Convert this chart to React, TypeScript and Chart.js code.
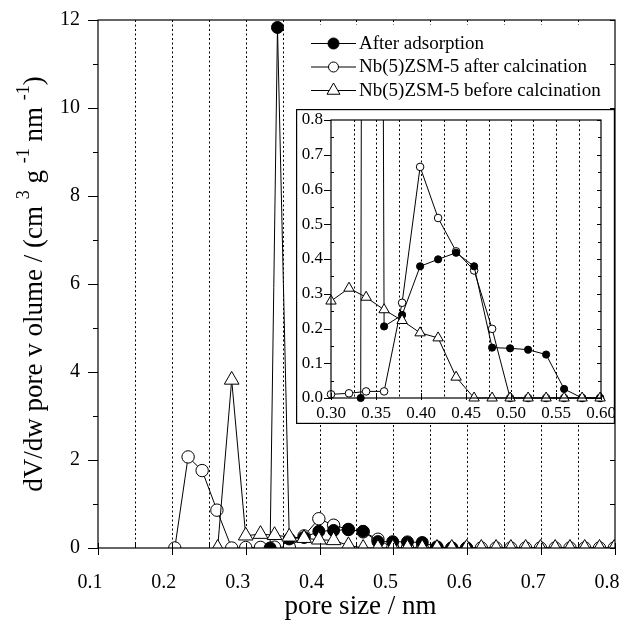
import React, { useEffect, useRef } from 'react';
import { Chart, registerables } from 'chart.js';

Chart.register(...registerables);

// ---------- data ----------
const afterAdsX = [0.333, 0.343, 0.359, 0.379, 0.399, 0.419, 0.439, 0.459, 0.479, 0.499, 0.519, 0.539, 0.559, 0.579, 0.599];
const afterAdsY = [0, 11.83, 0.206, 0.239, 0.379, 0.399, 0.418, 0.379, 0.145, 0.143, 0.139, 0.125, 0.026, 0, 0];

const afterCalcX = [0.204, 0.222, 0.241, 0.261, 0.281, 0.300, 0.320, 0.339, 0.359, 0.379, 0.399, 0.419, 0.439, 0.459, 0.479, 0.499, 0.519, 0.539, 0.559, 0.579, 0.599, 0.619, 0.639, 0.659, 0.679, 0.699, 0.719, 0.739, 0.759, 0.779, 0.799];
const afterCalcY = [0, 2.07, 1.76, 0.86, 0, 0.0106, 0.0135, 0.019, 0.019, 0.274, 0.665, 0.518, 0.422, 0.367, 0.199, 0, 0, 0, 0, 0, 0, 0, 0, 0, 0, 0, 0, 0, 0, 0, 0];

const beforeCalcX = [0.262, 0.281, 0.300, 0.320, 0.339, 0.359, 0.379, 0.399, 0.419, 0.439, 0.459, 0.479, 0.499, 0.519, 0.539, 0.559, 0.579, 0.599, 0.619, 0.639, 0.659, 0.679, 0.699, 0.719, 0.739, 0.759, 0.779, 0.799];
const beforeCalcY = [0, 3.82, 0.279, 0.316, 0.290, 0.254, 0.223, 0.1875, 0.173, 0.06, 0, 0, 0, 0, 0, 0, 0, 0, 0, 0, 0, 0, 0, 0, 0, 0, 0, 0];

const seriesLabels = ['After adsorption', 'Nb(5)ZSM-5 after calcination', 'Nb(5)ZSM-5 before calcination'];

const mainXRange = [0.1, 0.8];
const mainYRange = [0, 12];
const insetXRange = [0.3, 0.6];
const insetYRange = [0, 0.8];

const xTitle = 'pore size / nm';
const yTitleParts: { t: string; sup: boolean }[] = [
  { t: 'dV/dw pore v olume / (cm ', sup: false },
  { t: '3', sup: true },
  { t: ' g ', sup: false },
  { t: '-1', sup: true },
  { t: ' nm ', sup: false },
  { t: '-1', sup: true },
  { t: ')', sup: false },
];

const FONT = '"Liberation Serif", "Times New Roman", serif';

// ---------- helpers ----------
const pts = (xs: number[], ys: number[]) => xs.map((x, i) => ({ x, y: ys[i] }));
const isMult = (v: number, step: number) => {
  const q = v / step;
  return Math.abs(q - Math.round(q)) < 1e-6;
};

function drawMarker(ctx: CanvasRenderingContext2D, style: string, x: number, y: number, r: number, fill: string) {
  ctx.beginPath();
  if (style === 'triangle') {
    let rad = 0;
    ctx.moveTo(x + Math.sin(rad) * r, y - Math.cos(rad) * r);
    rad += (2 * Math.PI) / 3;
    ctx.lineTo(x + Math.sin(rad) * r, y - Math.cos(rad) * r);
    rad += (2 * Math.PI) / 3;
    ctx.lineTo(x + Math.sin(rad) * r, y - Math.cos(rad) * r);
    ctx.closePath();
  } else {
    ctx.arc(x, y, r, 0, Math.PI * 2);
  }
  ctx.fillStyle = fill;
  ctx.fill();
  ctx.lineWidth = 1;
  ctx.strokeStyle = '#000';
  ctx.stroke();
}

function line(ctx: CanvasRenderingContext2D, x1: number, y1: number, x2: number, y2: number) {
  ctx.beginPath();
  ctx.moveTo(x1, y1);
  ctx.lineTo(x2, y2);
  ctx.stroke();
}

const zeroPad = (s: any) => {
  s.paddingLeft = 0;
  s.paddingRight = 0;
  s.paddingTop = 0;
  s.paddingBottom = 0;
};

function makeDatasets(inset: boolean) {
  const filt = (xs: number[], ys: number[]) => {
    const p = pts(xs, ys);
    return inset ? p.filter((d) => d.x >= insetXRange[0] - 1e-9 && d.x <= insetXRange[1] + 1e-9) : p;
  };
  const clip = inset ? { left: 8, right: 8, top: 0, bottom: 8 } : undefined;
  const base = {
    borderColor: '#000',
    borderWidth: 1,
    pointBorderColor: '#000',
    pointBorderWidth: 1,
    tension: 0,
    showLine: true,
    ...(clip ? { clip } : {}),
  };
  return [
    {
      ...base,
      label: seriesLabels[0],
      data: filt(afterAdsX, afterAdsY),
      pointStyle: 'circle',
      pointRadius: inset ? 3.6 : 6,
      pointBackgroundColor: '#000',
      order: 2,
    },
    {
      ...base,
      label: seriesLabels[1],
      data: filt(afterCalcX, afterCalcY),
      pointStyle: 'circle',
      pointRadius: inset ? 3.8 : 6.2,
      pointBackgroundColor: '#fff',
      order: 3,
    },
    {
      ...base,
      label: seriesLabels[2],
      data: filt(beforeCalcX, beforeCalcY),
      pointStyle: 'triangle',
      pointRadius: inset ? 6 : 8.5,
      pointBackgroundColor: '#fff',
      order: 1,
    },
  ];
}

// ---------- main chart decorations ----------
const mainDecor = {
  id: 'mainDecor',
  beforeDatasetsDraw(chart: any) {
    const { ctx, chartArea: a, scales } = chart;
    const xs = scales.x;
    ctx.save();
    ctx.strokeStyle = '#000';
    ctx.lineWidth = 1;
    ctx.setLineDash([2, 2.5]);
    xs.ticks.forEach((t: any) => {
      if (t.value <= xs.min + 1e-9 || t.value >= xs.max - 1e-9) return;
      const px = Math.round(xs.getPixelForValue(t.value)) + 0.5;
      line(ctx, px, a.top, px, a.bottom);
    });
    ctx.setLineDash([]);
    // white legend background
    ctx.fillStyle = '#fff';
    ctx.fillRect(302, a.top + 5, a.right - 302 - 1, 109 - (a.top + 5));
    ctx.restore();
  },
  afterDatasetsDraw(chart: any) {
    const { ctx, chartArea: a, scales } = chart;
    const xs = scales.x;
    const ys = scales.y;
    ctx.save();
    ctx.strokeStyle = '#000';
    ctx.lineWidth = 1.2;
    ctx.strokeRect(a.left, a.top, a.right - a.left, a.bottom - a.top);
    ctx.lineWidth = 1;
    xs.ticks.forEach((t: any) => {
      const px = Math.round(xs.getPixelForValue(t.value)) + 0.5;
      const major = isMult(t.value, 0.1);
      line(ctx, px, a.bottom - 5, px, a.bottom + (major ? 7 : 0));
    });
    const yt = ys.ticks.map((t: any) => t.value);
    for (let i = 0; i < yt.length; i++) {
      const py = Math.round(ys.getPixelForValue(yt[i])) + 0.5;
      line(ctx, a.left - 10, py, a.left, py);
      line(ctx, a.right - 5, py, a.right, py);
      if (i < yt.length - 1) {
        const pm = Math.round(ys.getPixelForValue((yt[i] + yt[i + 1]) / 2)) + 0.5;
        line(ctx, a.left - 5, pm, a.left, pm);
        line(ctx, a.right - 5, pm, a.right, pm);
      }
    }
    ctx.restore();
  },
  afterDraw(chart: any) {
    const { ctx, chartArea: a } = chart;
    ctx.save();
    // legend
    const styles = [
      { s: 'circle', r: 5.5, f: '#000' },
      { s: 'circle', r: 5, f: '#fff' },
      { s: 'triangle', r: 7.5, f: '#fff' },
    ];
    const rows = [43, 66.5, 90];
    ctx.font = `19px ${FONT}`;
    ctx.textBaseline = 'middle';
    ctx.textAlign = 'left';
    seriesLabels.forEach((lab, i) => {
      const y = rows[i];
      ctx.strokeStyle = '#000';
      ctx.lineWidth = 1;
      line(ctx, 311, y + 0.5, 356, y + 0.5);
      drawMarker(ctx, styles[i].s, 333.5, y + 0.5, styles[i].r, styles[i].f);
      ctx.fillStyle = '#000';
      ctx.fillText(lab, 359, y + 1);
    });
    // x title
    ctx.fillStyle = '#000';
    ctx.font = `27px ${FONT}`;
    ctx.textAlign = 'center';
    ctx.textBaseline = 'alphabetic';
    ctx.fillText(xTitle, (a.left + a.right) / 2 + 4, 614);
    // y title with superscripts
    ctx.translate(42, (a.top + a.bottom) / 2);
    ctx.rotate(-Math.PI / 2);
    ctx.textAlign = 'left';
    const nf = `27px ${FONT}`;
    const sf = `18px ${FONT}`;
    let total = 0;
    yTitleParts.forEach((p) => {
      ctx.font = p.sup ? sf : nf;
      total += ctx.measureText(p.t).width;
    });
    let cx = -total / 2;
    yTitleParts.forEach((p) => {
      ctx.font = p.sup ? sf : nf;
      ctx.fillText(p.t, cx, p.sup ? -13 : 0);
      cx += ctx.measureText(p.t).width;
    });
    ctx.restore();
  },
};

// ---------- inset decorations ----------
const insetDecor = {
  id: 'insetDecor',
  beforeDraw(chart: any) {
    const { ctx, width, height } = chart;
    ctx.save();
    ctx.fillStyle = '#fff';
    ctx.fillRect(0, 0, width, height);
    ctx.restore();
  },
  beforeDatasetsDraw(chart: any) {
    const { ctx, chartArea: a, scales } = chart;
    const xs = scales.x;
    ctx.save();
    ctx.strokeStyle = '#000';
    ctx.lineWidth = 1;
    ctx.setLineDash([2, 2.5]);
    xs.ticks.forEach((t: any) => {
      if (t.value <= xs.min + 1e-9 || t.value >= xs.max - 1e-9) return;
      const px = Math.round(xs.getPixelForValue(t.value)) + 0.5;
      line(ctx, px, a.top, px, a.bottom);
    });
    ctx.restore();
  },
  afterDatasetsDraw(chart: any) {
    const { ctx, chartArea: a, scales, width, height } = chart;
    const xs = scales.x;
    const ys = scales.y;
    ctx.save();
    ctx.strokeStyle = '#000';
    ctx.lineWidth = 1.2;
    ctx.strokeRect(a.left, a.top, a.right - a.left, a.bottom - a.top);
    ctx.strokeRect(0.6, 0.6, width - 1.2, height - 1.2);
    ctx.lineWidth = 1;
    xs.ticks.forEach((t: any) => {
      if (!isMult(t.value, 0.05)) return;
      const px = Math.round(xs.getPixelForValue(t.value)) + 0.5;
      line(ctx, px, a.bottom - 5, px, a.bottom + 2);
    });
    const yt = ys.ticks.map((t: any) => t.value);
    for (let i = 0; i < yt.length; i++) {
      const py = Math.round(ys.getPixelForValue(yt[i])) + 0.5;
      line(ctx, a.left - 7, py, a.left, py);
      line(ctx, a.right - 4, py, a.right, py);
      if (i < yt.length - 1) {
        const pm = Math.round(ys.getPixelForValue((yt[i] + yt[i + 1]) / 2)) + 0.5;
        line(ctx, a.left, pm, a.left + 3, pm);
        line(ctx, a.right - 3, pm, a.right, pm);
      }
    }
    ctx.restore();
  },
};

export default function App() {
  const mainRef = useRef<HTMLCanvasElement>(null);
  const insetRef = useRef<HTMLCanvasElement>(null);

  useEffect(() => {
    const mainChart = new Chart(mainRef.current as HTMLCanvasElement, {
      type: 'line',
      data: { datasets: makeDatasets(false) as any },
      options: {
        animation: false,
        responsive: false,
        events: [],
        layout: { padding: { top: 20, right: 9, left: 0, bottom: 0 }, autoPadding: false } as any,
        plugins: { legend: { display: false }, tooltip: { enabled: false } },
        scales: {
          x: {
            type: 'linear',
            min: mainXRange[0],
            max: mainXRange[1],
            ticks: {
              stepSize: 0.05,
              autoSkip: false,
              maxRotation: 0,
              padding: 23,
              labelOffset: -8,
              color: '#000',
              font: { family: FONT, size: 20 },
              callback: (v: any) => (isMult(Number(v), 0.1) ? Number(v).toFixed(1) : ''),
            },
            grid: { display: false, drawTicks: false },
            border: { display: false },
            afterFit: (s: any) => {
              s.height = 74;
              zeroPad(s);
            },
          },
          y: {
            type: 'linear',
            min: mainYRange[0],
            max: mainYRange[1],
            ticks: {
              stepSize: 2,
              padding: 18,
              color: '#000',
              font: { family: FONT, size: 20 },
              callback: (v: any) => String(Math.round(Number(v))),
            },
            grid: { display: false, drawTicks: false },
            border: { display: false },
            afterFit: (s: any) => {
              s.width = 98;
              zeroPad(s);
            },
          },
        },
      },
      plugins: [mainDecor],
    });

    const insetChart = new Chart(insetRef.current as HTMLCanvasElement, {
      type: 'line',
      data: { datasets: makeDatasets(true) as any },
      options: {
        animation: false,
        responsive: false,
        events: [],
        layout: { padding: { top: 11, right: 14, left: 0, bottom: 0 }, autoPadding: false } as any,
        plugins: { legend: { display: false }, tooltip: { enabled: false } },
        scales: {
          x: {
            type: 'linear',
            min: insetXRange[0],
            max: insetXRange[1],
            ticks: {
              stepSize: 0.025,
              autoSkip: false,
              maxRotation: 0,
              padding: 5,
              color: '#000',
              font: { family: FONT, size: 17 },
              callback: (v: any) => (isMult(Number(v), 0.05) ? Number(v).toFixed(2) : ''),
            },
            grid: { display: false, drawTicks: false },
            border: { display: false },
            afterFit: (s: any) => {
              s.height = 26;
              zeroPad(s);
            },
          },
          y: {
            type: 'linear',
            min: insetYRange[0],
            max: insetYRange[1],
            ticks: {
              stepSize: 0.1,
              padding: 8,
              color: '#000',
              font: { family: FONT, size: 17 },
              callback: (v: any) => Number(v).toFixed(1),
            },
            grid: { display: false, drawTicks: false },
            border: { display: false },
            afterFit: (s: any) => {
              s.width = 35;
              zeroPad(s);
            },
          },
        },
      },
      plugins: [insetDecor],
    });

    return () => {
      mainChart.destroy();
      insetChart.destroy();
    };
  }, []);

  return (
    <div style={{ position: 'fixed', left: 0, top: 0, width: 624, height: 622, background: '#fff' }}>
      <canvas
        ref={mainRef}
        width={624}
        height={622}
        style={{ position: 'absolute', left: 0, top: 0, width: 624, height: 622 }}
      />
      <canvas
        ref={insetRef}
        width={319}
        height={315}
        style={{ position: 'absolute', left: 296, top: 109, width: 319, height: 315 }}
      />
    </div>
  );
}
